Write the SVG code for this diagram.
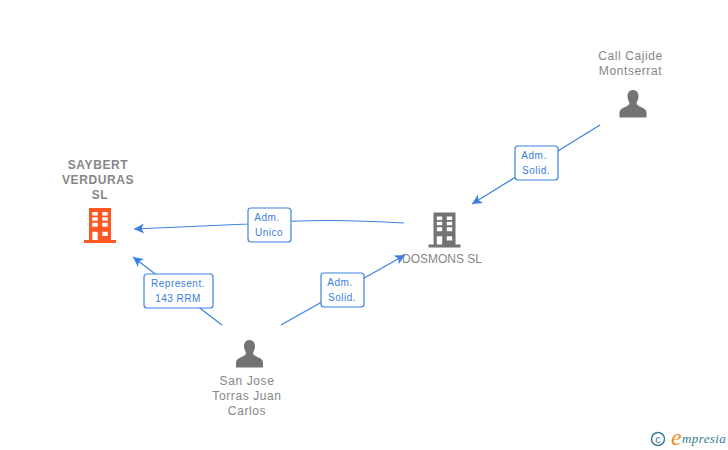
<svg xmlns="http://www.w3.org/2000/svg" width="728" height="450" viewBox="0 0 728 450">
<style>
text{font-family:"Liberation Sans",Arial,sans-serif}
.n{font-size:12px;fill:#868686;text-anchor:middle;letter-spacing:.6px}
.b{font-weight:bold}
.l{font-size:10px;fill:#3a7de0;text-anchor:middle;letter-spacing:.5px}
.box{fill:#fff;stroke:#3b82e0;stroke-width:1.2}
.c{fill:none;stroke:#3b82e0;stroke-width:1.2}
.p{fill:#737373}
</style>
<defs>
<marker id="a" markerUnits="userSpaceOnUse" markerWidth="12" markerHeight="12" refX="10" refY="5.500" orient="auto"><path d="M10 5.500L0 .5L2.500 5.500L0 10.500Z" fill="#3b7fdf"/></marker>
<g id="bld"><path d="M-11-17H11V15H16V18H-16V15H-11ZM-7.700-13V-9.500H-2.300V-13ZM2.300-13V-9.500H7.700V-13ZM-7.700-7.700V-4.300H-2.300V-7.700ZM2.300-7.700V-4.300H7.700V-7.700ZM-7.700-2.300V1.700H-2.300V-2.300ZM2.300-2.300V1.700H7.700V-2.300ZM-7.700 6.700V15H-2.300V6.700ZM2.300 6.700V11H7.700V6.700Z" fill-rule="evenodd"/></g>
<path id="per" d="M0-14C4-14 5.500-11 5.500-7.500C5.500-4.500 4-3 3.500-1C3.500 1 6 2 9 3.500C12 5 13.500 6 13.500 9V13.500H-13.500V9C-13.500 6-12 5-9 3.500C-6 2-3.500 1-3.500-1C-4-3-5.500-4.500-5.500-7.500C-5.500-11-4-14 0-14Z"/>
</defs>
<g id="connectors">
<path class="c" d="M404 223C340 219 290 220 248 224L134 229" marker-end="url(#a)"/>
<path class="c" d="M222 325L133 257" marker-end="url(#a)"/>
<path class="c" d="M281 325L405 255" marker-end="url(#a)"/>
<path class="c" d="M600 125L472 204" marker-end="url(#a)"/>
</g>
<g id="node-saybert"><text class="n b" x="98" y="169">SAYBERT</text><text class="n b" x="98" y="184">VERDURAS</text><text class="n b" x="100" y="199">SL</text><use href="#bld" x="100" y="225" fill="#ff5722"/></g>
<g id="node-dosmons"><use href="#bld" x="444.500" y="229.500" fill="#737373"/><text class="n" x="442" y="263" style="letter-spacing:0">DOSMONS SL</text></g>
<g id="node-call"><text class="n" x="630.500" y="60">Call Cajide</text><text class="n" x="630.500" y="75">Montserrat</text><use href="#per" class="p" x="633" y="104"/></g>
<g id="node-sanjose"><use href="#per" class="p" x="249.500" y="354"/><text class="n" x="247" y="385">San Jose</text><text class="n" x="247" y="400">Torras Juan</text><text class="n" x="247" y="415">Carlos</text></g>
<g id="label-unico"><rect class="box" x="248" y="208" width="43" height="34" rx="3"/><text class="l" x="267" y="221">Adm.</text><text class="l" x="269" y="236">Unico</text></g>
<g id="label-repr"><rect class="box" x="144" y="274" width="69" height="34" rx="3"/><text class="l" x="178" y="287">Represent.</text><text class="l" x="178" y="302">143 RRM</text></g>
<g id="label-solid1"><rect class="box" x="321" y="273" width="43" height="34" rx="3"/><text class="l" x="340" y="286">Adm.</text><text class="l" x="342" y="301">Solid.</text></g>
<g id="label-solid2"><rect class="box" x="515" y="146" width="43" height="34" rx="3"/><text class="l" x="534" y="159">Adm.</text><text class="l" x="536" y="174">Solid.</text></g>
<g id="logo"><circle cx="658" cy="439" r="6.500" fill="none" stroke="#3d7f96" stroke-width="1.500"/><text x="658" y="443" font-size="11" fill="#3d7f96" text-anchor="middle">c</text><text x="671" y="445" font-size="24" font-style="italic" fill="#f08a1d" style="font-family:'Liberation Serif',serif">e</text><text x="682" y="443" font-size="13" font-style="italic" fill="#2f7f95" style="font-family:'Liberation Serif',serif" letter-spacing=".4">mpresia</text></g>
</svg>
